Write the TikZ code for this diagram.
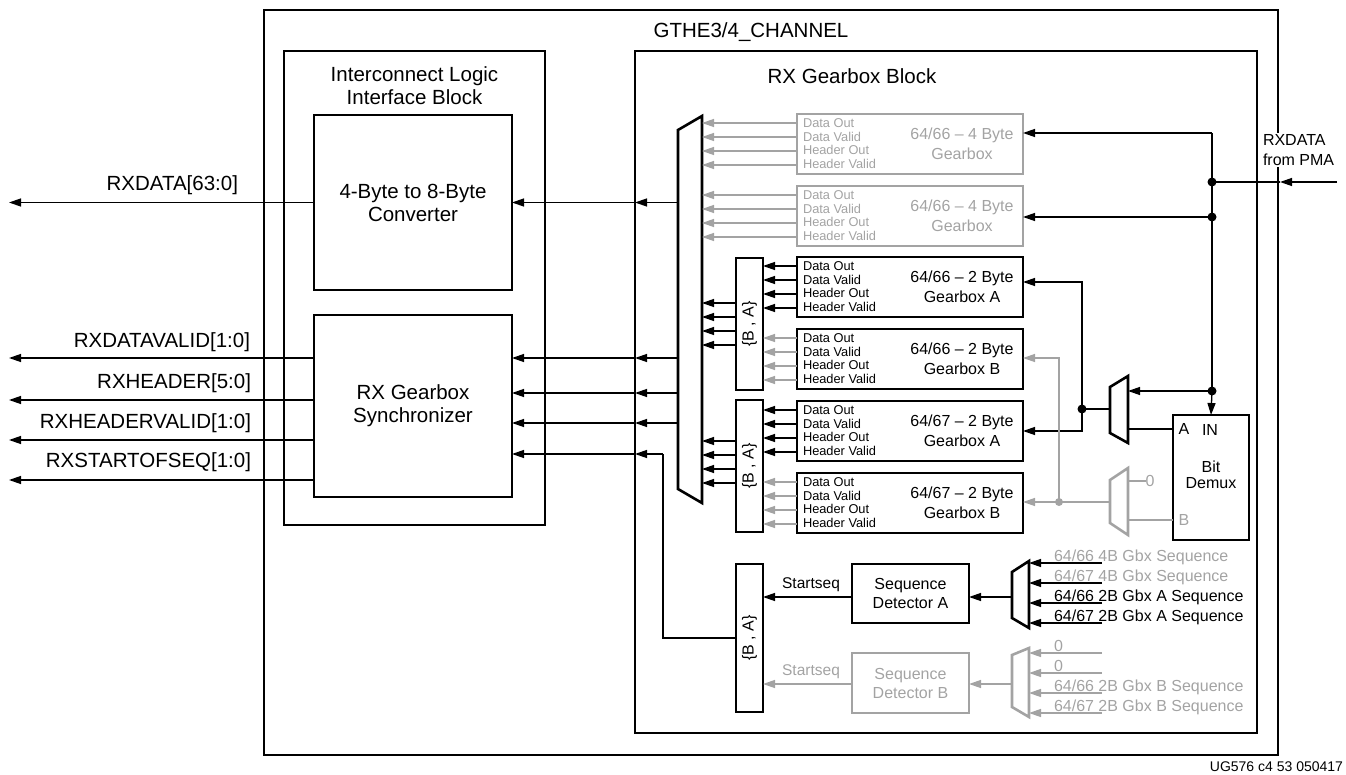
\documentclass[tikz,border=0pt]{standalone}
\usepackage{fontspec}
\setmainfont{Liberation Sans}
\usetikzlibrary{arrows.meta,calc}
\definecolor{gr}{RGB}{163,163,163}
\newcommand{\gearbx}[5]{%
  \node[bx, draw=#3, minimum width=226pt, minimum height=60pt] (#1) at (910,#2+30) {};
  \node[lbl, smlf, align=left, anchor=west, text=#3] (#1s) at (803,#2+29.5) {Data Out\\Data Valid\\Header Out\\Header Valid};
  \node[lbl, medf, text=#3, align=center] (#1t) at (962,#2+30) {#4\\#5};
}
\begin{document}
\begin{tikzpicture}[x=1pt,y=-1pt,
  bigf/.style={font=\fontsize{20.5}{23}\selectfont},
  medf/.style={font=\fontsize{16}{20}\selectfont},
  smlf/.style={font=\fontsize{12.8}{13.8}\selectfont},
  bx/.style={draw, line width=2.6pt, rectangle, inner sep=0pt, outer sep=0pt, align=center},
  lbl/.style={inner sep=0pt, outer sep=0pt, align=center},
  ln/.style={line width=1.3pt},
  arr/.style={ln, -{Triangle[length=12pt,width=8pt]}},
  gln/.style={ln, draw=gr},
  garr/.style={arr, draw=gr},
  muxs/.style={draw, line width=2.6pt, fill=white, line join=miter},
  jdot/.style={circle, fill, inner sep=0pt, minimum size=9pt},
]
\useasboundingbox (0,0) rectangle (1346,775);

% outer channel
\node[bx, line width=2.4pt, minimum width=1014pt, minimum height=745pt] (gthe) at (771,382.5) {};
\node[lbl,bigf] (gtitle) at (751,32) {GTHE3/4\_CHANNEL};

% interconnect logic
\node[bx, minimum width=261pt, minimum height=474pt] (ilb) at (414.5,288) {};
\node[lbl,bigf] (iltitle) at (414.5,86) {Interconnect Logic\\Interface Block};
\node[bx,bigf, minimum width=198pt, minimum height=175pt] (conv) at (413,202.5) {4-Byte to 8-Byte\\Converter};
\node[bx,bigf, minimum width=198pt, minimum height=182pt] (sync) at (413,406) {RX Gearbox\\Synchronizer};

% gearbox block
\node[bx, minimum width=622pt, minimum height=682pt] (blk) at (946,392) {};
\node[lbl,bigf] (blktitle) at (852,76) {RX Gearbox Block};

% big mux
\draw[muxs] (678,130) -- (702,116) -- (702,503) -- (678,489) -- cycle;
\coordinate (muxL) at (678,300);
\coordinate (muxR) at (702,300);

% gearboxes
\gearbx{g1}{114}{gr}{64/66 \textendash{} 4 Byte}{Gearbox}
\gearbx{g2}{186}{gr}{64/66 \textendash{} 4 Byte}{Gearbox}
\gearbx{a1}{257}{black}{64/66 \textendash{} 2 Byte}{Gearbox A}
\gearbx{b1}{329}{black}{64/66 \textendash{} 2 Byte}{Gearbox B}
\gearbx{a2}{401}{black}{64/67 \textendash{} 2 Byte}{Gearbox A}
\gearbx{b2}{473}{black}{64/67 \textendash{} 2 Byte}{Gearbox B}

% {B,A} selectors
\node[bx, minimum width=27pt, minimum height=132pt] (ba1) at (749.5,324) {};
\node[lbl, medf, rotate=90] (ba1t) at (ba1) {\{B , A\}};
\node[bx, minimum width=27pt, minimum height=132pt] (ba2) at (749.5,466) {};
\node[lbl, medf, rotate=90] (ba2t) at (ba2) {\{B , A\}};
\node[bx, minimum width=27pt, minimum height=148pt] (ba3) at (749.5,638) {};
\node[lbl, medf, rotate=90] (ba3t) at (ba3) {\{B , A\}};

% gearbox outputs
\foreach \b in {g1,g2} \foreach \d in {9,23,37,51} {
  \path (\b.north west) ++(0,\d) coordinate (p);
  \draw[garr] (p) -- (p -| muxR);
}
\foreach \b in {a1,a2} \foreach \d in {9,23,37,51} {
  \path (\b.north west) ++(0,\d) coordinate (p);
  \draw[arr] (p) -- (p -| ba1.east);
}
\foreach \b in {b1,b2} \foreach \d in {9,23,37,51} {
  \path (\b.north west) ++(0,\d) coordinate (p);
  \draw[garr] (p) -- (p -| ba1.east);
}
\foreach \d in {45,59,73,87} {
  \path (ba1.north west) ++(0,\d) coordinate (p);
  \draw[arr] (p) -- (p -| muxR);
}
\foreach \d in {41,55,69,83} {
  \path (ba2.north west) ++(0,\d) coordinate (p);
  \draw[arr] (p) -- (p -| muxR);
}

% mux to interconnect
\draw[arr] (muxL |- conv.east) -- (blk.west |- conv.east);
\draw[arr] (blk.west |- conv.east) -- (conv.east);
\foreach \d in {43,78,108} {
  \path (sync.north east) ++(0,\d) coordinate (p);
  \draw[arr] (p -| muxL) -- (p -| blk.west);
  \draw[arr] (p -| blk.west) -- (p);
}
\coordinate (k1) at (663,454);
\draw[ln] (ba3.west) -| (k1);
\draw[arr] (k1) -- (k1 -| blk.west);
\draw[arr] (k1 -| blk.west) -- (k1 -| sync.east);

% outputs to the left
\coordinate (lend) at (9,0);
\draw[arr] (conv.west) -- (conv.west -| lend);
\node[lbl,bigf,anchor=east] (l0) at (238,185) {RXDATA[63:0]};
\path (sync.north west) ++(0,43) coordinate (o1);
\path (sync.north west) ++(0,85) coordinate (o2);
\path (sync.north west) ++(0,125) coordinate (o3);
\path (sync.north west) ++(0,165) coordinate (o4);
\draw[arr] (o1) -- (o1 -| lend);
\draw[arr] (o2) -- (o2 -| lend);
\draw[arr] (o3) -- (o3 -| lend);
\draw[arr] (o4) -- (o4 -| lend);
\node[lbl,bigf,anchor=east] (l1) at (250,342) {RXDATAVALID[1:0]};
\node[lbl,bigf,anchor=east] (l2) at (251,383) {RXHEADER[5:0]};
\node[lbl,bigf,anchor=east] (l3) at (251,423) {RXHEADERVALID[1:0]};
\node[lbl,bigf,anchor=east] (l4) at (251,462) {RXSTARTOFSEQ[1:0]};

% bit demux
\node[bx, minimum width=76pt, minimum height=125pt] (demux) at (1211,477.5) {};
\node[lbl, font=\fontsize{16}{15.5}\selectfont] (demuxt) at (1211,475) {Bit\\Demux};
\node[lbl, medf] (inl) at (1210,430) {IN};
\node[lbl, medf] (al) at (1184,429) {A};
\node[lbl, medf, text=gr] (bl) at (1184,520) {B};

% RXDATA from PMA
\node[lbl, medf, align=left, anchor=west, fill=white, inner sep=1pt] (pmat) at (1262,150) {RXDATA\\from PMA};
\coordinate (pma) at (1337,182);
\coordinate (pmaT) at (1280,182);
\coordinate (c1) at (1212,133);
\coordinate (d1) at (1212,182);
\coordinate (d2) at (1212,217);
\coordinate (d3) at (1212,391);
\draw[arr] (pma) -- (pmaT);
\draw[ln] (pmaT) -- (d1);
\draw[ln] (c1) -- (d3);
\draw[arr] (d3) -- (demux.north);
\draw[arr] (c1) -- (c1 -| g1.east);
\draw[arr] (d2) -- (d2 -| g2.east);
\node[jdot] (dd1) at (d1) {};
\node[jdot] (dd2) at (d2) {};
\node[jdot] (dd3) at (d3) {};

% mux 2 (A path)
\draw[muxs] (1110,387) -- (1128,376) -- (1128,443) -- (1110,433) -- cycle;
\coordinate (m2R) at (1128,409);
\coordinate (m2L) at (1110,409);
\draw[arr] (d3) -- (d3 -| m2R);
\draw[ln] (m2R |- al) -- (demux.west |- al);
\coordinate (d4) at (1082,409);
\coordinate (t1) at (1082,282);
\coordinate (t2) at (1082,431);
\draw[ln] (m2L) -- (d4);
\draw[arr] (d4) -- (t1) -- (t1 -| a1.east);
\draw[arr] (d4) -- (t2) -- (t2 -| a2.east);
\node[jdot] (dd4) at (d4) {};

% mux 3 (B path, gray)
\draw[muxs, draw=gr] (1110,480) -- (1128,468) -- (1128,535) -- (1110,523) -- cycle;
\coordinate (m3L) at (1110,502);
\coordinate (m3R) at (1128,502);
\coordinate (d5) at (1059,502);
\coordinate (t3) at (1059,358);
\draw[gln] (m3L) -- (d5);
\draw[garr] (d5) -- (t3) -- (t3 -| b1.east);
\draw[garr] (d5) -- (d5 -| b2.east);
\node[jdot, fill=gr, minimum size=8pt] (dd5) at (d5) {};
\node[lbl, medf, text=gr] (zero1) at (1150,481) {0};
\draw[gln] (m3R |- zero1) -- (zero1.west);
\draw[gln] (m3R |- bl) -- (demux.west |- bl);

% sequence detectors
\node[bx, medf, minimum width=117pt, minimum height=59pt, font=\fontsize{16}{19}\selectfont] (detA) at (910.5,593.5) {Sequence\\Detector A};
\node[bx, draw=gr, text=gr, minimum width=117pt, minimum height=60pt, font=\fontsize{16}{19}\selectfont] (detB) at (910.5,683) {Sequence\\Detector B};

\draw[muxs] (1012,572) -- (1029,561) -- (1029,628) -- (1012,618) -- cycle;
\draw[muxs, draw=gr] (1012,655) -- (1029,648) -- (1029,717) -- (1012,707) -- cycle;
\coordinate (sa) at (1012,597);
\coordinate (sb) at (1012,684);
\draw[arr] (sa) -- (sa -| detA.east);
\draw[arr] (detA.west |- sa) -- (ba3.east |- sa);
\draw[garr] (sb) -- (sb -| detB.east);
\draw[garr] (detB.west |- sb) -- (ba3.east |- sb);
\node[lbl, font=\fontsize{15.5}{18}\selectfont, anchor=base] (ssa) at (811,588.5) {Startseq};
\node[lbl, font=\fontsize{15.5}{18}\selectfont, anchor=base, text=gr] (ssb) at (811,675.5) {Startseq};

\coordinate (ia) at (1029,0);
\coordinate (ie) at (1102,0);
\foreach \y in {563,583,603,623} {
  \draw[arr] (ie |- 0,\y) -- (ia |- 0,\y);
}
\foreach \y in {653,673,693,713} {
  \draw[garr] (ie |- 0,\y) -- (ia |- 0,\y);
}
\node[lbl, medf, anchor=base west, text=gr] (sq1) at (1054,561.5) {64/66 4B Gbx Sequence};
\node[lbl, medf, anchor=base west, text=gr] (sq2) at (1054,581.5) {64/67 4B Gbx Sequence};
\node[lbl, medf, anchor=base west] (sq3) at (1054,601.5) {64/66 2B Gbx A Sequence};
\node[lbl, medf, anchor=base west] (sq4) at (1054,621.5) {64/67 2B Gbx A Sequence};
\node[lbl, medf, anchor=base west, text=gr] (sq5) at (1054,651.5) {0};
\node[lbl, medf, anchor=base west, text=gr] (sq6) at (1054,671.5) {0};
\node[lbl, medf, anchor=base west, text=gr] (sq7) at (1054,691.5) {64/66 2B Gbx B Sequence};
\node[lbl, medf, anchor=base west, text=gr] (sq8) at (1054,711.5) {64/67 2B Gbx B Sequence};

% figure id
\node[lbl, font=\fontsize{14}{16}\selectfont, anchor=east] (ug) at (1343,767) {UG576 c4 53 050417};
\end{tikzpicture}
\end{document}
